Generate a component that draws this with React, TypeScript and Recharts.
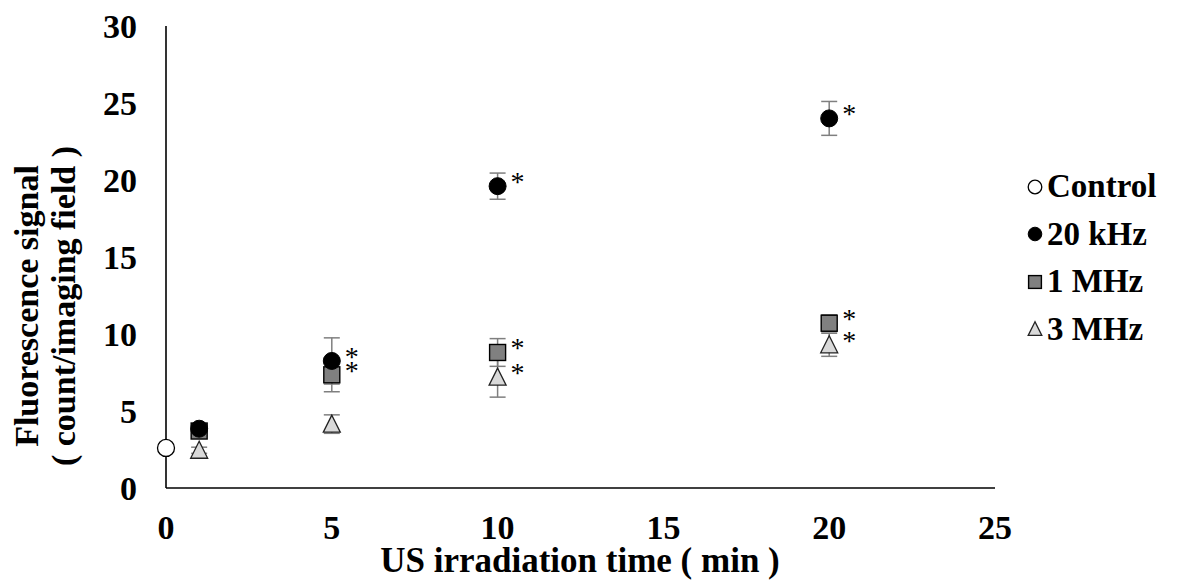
import { ScatterChart, Scatter, XAxis, YAxis, ErrorBar } from "recharts";

// minutes of US irradiation, fluorescence value, error (SD)
const control = [{ t: 0, v: 2.6, e: 0.2, sig: false }];
const khz20 = [
  { t: 1, v: 3.85, e: 0.3, sig: false },
  { t: 5, v: 8.25, e: 1.5, sig: true },
  { t: 10, v: 19.6, e: 0.85, sig: true },
  { t: 20, v: 24.0, e: 1.1, sig: true },
];
const mhz1 = [
  { t: 1, v: 3.7, e: 0.3, sig: false },
  { t: 5, v: 7.35, e: 1.1, sig: true },
  { t: 10, v: 8.8, e: 0.9, sig: true },
  { t: 20, v: 10.7, e: 0.55, sig: true },
];
const mhz3 = [
  { t: 1, v: 2.45, e: 0.2, sig: false },
  { t: 5, v: 4.15, e: 0.6, sig: false },
  { t: 10, v: 7.2, e: 1.3, sig: true },
  { t: 20, v: 9.3, e: 0.75, sig: true },
];
const xTicks = [0, 5, 10, 15, 20, 25];
const yTicks = [0, 5, 10, 15, 20, 25, 30];
const legendItems = ["Control", "20 kHz", "1 MHz", "3 MHz"];

const FONT = "'Liberation Serif', 'Times New Roman', serif";
const tickStyle = { fill: "#000", fontSize: 34, fontWeight: 700, fontFamily: FONT };

function Star({ cx, cy }: { cx: number; cy: number }) {
  return (
    <text x={cx + 20} y={cy + 5} textAnchor="middle" fontSize={28} fontFamily={FONT} fill="#000">
      *
    </text>
  );
}

function Marker({ kind, cx, cy, s = 1 }: { kind: string; cx: number; cy: number; s?: number }) {
  if (kind === "control")
    return <circle cx={cx} cy={cy} r={8.5 * s} fill="#fff" stroke="#000" strokeWidth={1.3} />;
  if (kind === "khz20")
    return <circle cx={cx} cy={cy} r={8.5 * s} fill="#000" stroke="#000" strokeWidth={1} />;
  if (kind === "mhz1")
    return (
      <rect x={cx - 8 * s} y={cy - 8 * s} width={16 * s} height={16 * s} fill="#808080" stroke="#000" strokeWidth={1.4} />
    );
  return (
    <polygon
      points={`${cx},${cy - 9 * s} ${cx - 8.5 * s},${cy + 8 * s} ${cx + 8.5 * s},${cy + 8 * s}`}
      fill="#d9d9d9"
      stroke="#222"
      strokeWidth={1.3}
    />
  );
}

const shapeFor = (kind: string) => (p: any) =>
  (
    <g>
      <Marker kind={kind} cx={p.cx} cy={p.cy} />
      {p.payload?.sig ? <Star cx={p.cx} cy={p.cy} /> : null}
    </g>
  );

function LegendBox() {
  const kinds = ["control", "khz20", "mhz1", "mhz3"];
  return (
    <div
      style={{
        position: "absolute",
        left: 1026,
        top: 163,
        fontFamily: FONT,
        fontWeight: 700,
        fontSize: 33,
        color: "#000",
      }}
    >
      {legendItems.map((name, i) => (
        <div key={name} style={{ display: "flex", alignItems: "center", height: 47.5 }}>
          <svg width={18} height={18} style={{ marginRight: 3 }}>
            <Marker kind={kinds[i]} cx={9} cy={9} s={0.8} />
          </svg>
          <span>{name}</span>
        </div>
      ))}
    </div>
  );
}

const YLabel = () => (
  <g fontFamily={FONT} fontWeight={700} fontSize={34} fill="#000">
    <text transform="translate(38,306) rotate(-90)" textAnchor="middle">
      Fluorescence signal
    </text>
    <text transform="translate(75,306) rotate(-90)" textAnchor="middle">
      ( count/imaging field )
    </text>
  </g>
);

const XLabel = () => (
  <text x={580} y={572} textAnchor="middle" fontFamily={FONT} fontWeight={700} fontSize={35} fill="#000">
    US irradiation time ( min )
  </text>
);

export default function App() {
  return (
    <div style={{ position: "absolute", left: 0, top: 0, width: 1189, height: 582, background: "#fff" }}>
      <ScatterChart width={1189} height={582} margin={{ top: 26, right: 194, bottom: 0, left: 86 }}>
        <XAxis
          type="number"
          dataKey="t"
          domain={[0, 25]}
          ticks={xTicks}
          height={94}
          tick={tickStyle}
          tickSize={0}
          tickMargin={27}
          tickLine={false}
          axisLine={{ stroke: "#000", strokeWidth: 1.6 }}
          label={<XLabel />}
        />
        <YAxis
          type="number"
          dataKey="v"
          domain={[0, 30]}
          ticks={yTicks}
          width={80}
          tick={tickStyle}
          tickSize={0}
          tickMargin={29}
          tickLine={false}
          axisLine={{ stroke: "#000", strokeWidth: 1.6 }}
          label={<YLabel />}
        />
        <Scatter name="Control" data={control} shape={shapeFor("control")} isAnimationActive={false}>
          <ErrorBar dataKey="e" direction="y" width={8} stroke="#7f7f7f" strokeWidth={1.5} />
        </Scatter>
        <Scatter name="3 MHz" data={mhz3} shape={shapeFor("mhz3")} isAnimationActive={false}>
          <ErrorBar dataKey="e" direction="y" width={8} stroke="#7f7f7f" strokeWidth={1.5} />
        </Scatter>
        <Scatter name="1 MHz" data={mhz1} shape={shapeFor("mhz1")} isAnimationActive={false}>
          <ErrorBar dataKey="e" direction="y" width={8} stroke="#7f7f7f" strokeWidth={1.5} />
        </Scatter>
        <Scatter name="20 kHz" data={khz20} shape={shapeFor("khz20")} isAnimationActive={false}>
          <ErrorBar dataKey="e" direction="y" width={8} stroke="#7f7f7f" strokeWidth={1.5} />
        </Scatter>
      </ScatterChart>
      <LegendBox />
    </div>
  );
}
